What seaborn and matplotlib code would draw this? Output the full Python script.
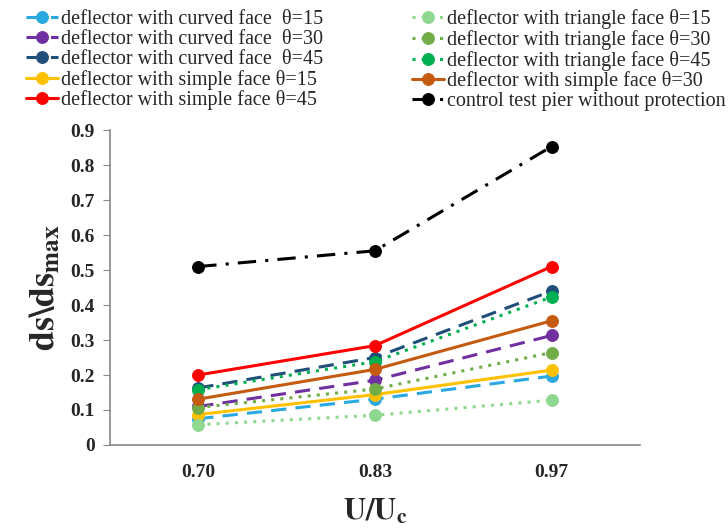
import matplotlib
matplotlib.use("Agg")
import matplotlib.pyplot as plt
import seaborn as sns
import pandas as pd

categories = ["0.70", "0.83", "0.97"]

curved_15 = [0.075, 0.131, 0.197]
curved_30 = [0.110, 0.185, 0.313]
curved_45 = [0.163, 0.250, 0.440]
simple_15 = [0.087, 0.144, 0.214]
simple_30 = [0.131, 0.216, 0.355]
simple_45 = [0.200, 0.284, 0.510]
triangle_15 = [0.058, 0.085, 0.128]
triangle_30 = [0.107, 0.160, 0.264]
triangle_45 = [0.158, 0.238, 0.423]
control = [0.510, 0.555, 0.853]

labels = [
    "deflector with curved face  \u03b8=15",
    "deflector with curved face  \u03b8=30",
    "deflector with curved face  \u03b8=45",
    "deflector with simple face \u03b8=15",
    "deflector with simple face \u03b8=45",
    "deflector with triangle face \u03b8=15",
    "deflector with triangle face \u03b8=30",
    "deflector with triangle face \u03b8=45",
    "deflector with simple face \u03b8=30",
    "control test pier without protection",
]
series = [curved_15, curved_30, curved_45, simple_15, simple_45,
          triangle_15, triangle_30, triangle_45, simple_30, control]
colors = ["#2AA9E0", "#7030A0", "#1F4E79", "#FFC000", "#FF0000",
          "#8FD88F", "#70AD47", "#00B050", "#C55A11", "#000000"]
styles = [(0, (5, 3)), (0, (5, 3)), (0, (5, 3)), "-", "-",
          (0, (1, 2)), (0, (1, 2)), (0, (1, 2)), "-", (0, (6, 3, 1, 3))]

sns.set_style("white")
plt.rcParams["font.family"] = ["Liberation Serif", "DejaVu Serif"]
plt.rcParams["mathtext.fontset"] = "stix"

fig = plt.figure(figsize=(7.28, 5.31), dpi=100)
ax = fig.add_axes([0.151, 0.162, 0.728, 0.593])

handles = []
for lab, vals, col, ls in zip(labels, series, colors, styles):
    df = pd.DataFrame({"x": categories, "y": vals})
    sns.lineplot(data=df, x="x", y="y", ax=ax, color=col, linestyle=ls,
                 linewidth=2.2, marker="o", markersize=8.5,
                 markeredgecolor=col, label=lab, legend=False)
    handles.append(ax.lines[-1])

ax.set_xlim(-0.5, 2.5)
ax.set_ylim(0, 0.9)
ax.set_yticks([0, 0.1, 0.2, 0.3, 0.4, 0.5, 0.6, 0.7, 0.8, 0.9])
ax.set_yticklabels(["0", "0.1", "0.2", "0.3", "0.4", "0.5", "0.6", "0.7", "0.8", "0.9"])
for t in ax.get_yticklabels() + ax.get_xticklabels():
    t.set_fontweight("bold")
    t.set_fontsize(14)
ax.tick_params(axis="y", which="both", left=True, length=5, color="#888888", pad=6)
ax.tick_params(axis="x", bottom=False, pad=10)
for s in ["top", "right"]:
    ax.spines[s].set_visible(False)
for s in ["left", "bottom"]:
    ax.spines[s].set_color("#888888")
    ax.spines[s].set_linewidth(1.2)

ax.set_ylabel(r"$\mathbf{ds\backslash ds_{max}}$", fontsize=26, labelpad=6)
ax.set_xlabel(r"$\mathbf{U/U_c}$", fontsize=22, labelpad=12)

fig.legend(handles=handles, labels=labels, loc="upper left",
           bbox_to_anchor=(0.022, 1.002), ncol=2, frameon=False,
           fontsize=14.5, handlelength=1.6, handletextpad=0.15,
           columnspacing=4.4, labelspacing=0.04, borderaxespad=0.1)

fig.savefig("out.png", dpi=100)
